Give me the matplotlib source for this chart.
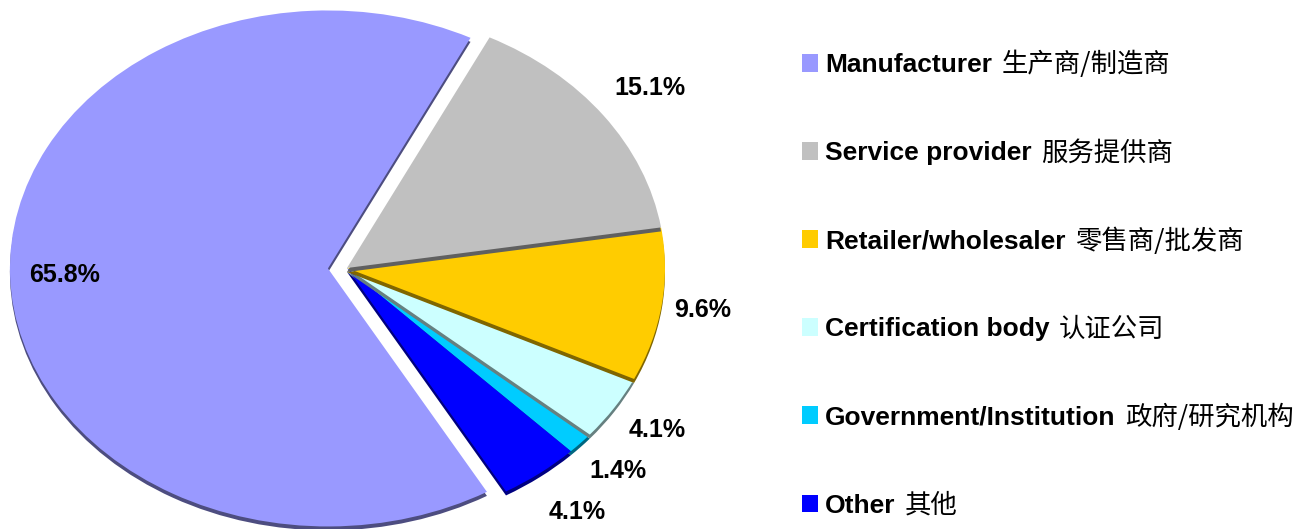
import matplotlib
matplotlib.use("Agg")
import numpy as np
import matplotlib.pyplot as plt
from matplotlib.colors import to_rgb

# DATA
categories_en = ["Manufacturer", "Service provider", "Retailer/wholesaler",
                 "Certification body", "Government/Institution", "Other"]
categories_cn = ["生产商/制造商", "服务提供商", "零售商/批发商",
                 "认证公司", "政府/研究机构", "其他"]
shares = [65.8, 15.1, 9.6, 4.1, 1.4, 4.1]

# STYLE
colors = ["#9999FF", "#C0C0C0", "#FFCC00", "#CCFFFF", "#00CCFF", "#0000FF"]
explode = [0.06, 0, 0, 0, 0, 0]
label_radius = [0.83, 1.18, 1.13, 1.16, 1.16, 1.19]
draw_rank = [6, 5, 4, 3, 1, 2]   # back-to-front order of the slices
depth = 4 / 258                   # 3D side thickness in data units

W, H = 1307, 529
cx, cy, rx, ry = 347, 268, 318, 258   # pie centre / radii in pixels

fig = plt.figure(figsize=(W / 100, H / 100), dpi=100)
ax = fig.add_axes([0, 0, 1, 1])

side_colors = [tuple(0.5 * c for c in to_rgb(col)) for col in colors]

sides, _ = ax.pie(shares, colors=side_colors, explode=explode, startangle=-60,
                  counterclock=False, center=(0, -depth),
                  wedgeprops=dict(linewidth=0))
tops, _ = ax.pie(shares, colors=colors, explode=explode, startangle=-60,
                 counterclock=False, center=(0, 0),
                 wedgeprops=dict(linewidth=0))

for s, t, rk in zip(sides, tops, draw_rank):
    s.set_zorder(2 * rk)
    t.set_zorder(2 * rk + 1)

# percentage labels
for t, val, rl in zip(tops, shares, label_radius):
    mid = np.deg2rad((t.theta1 + t.theta2) / 2)
    x0, y0 = t.center
    ax.text(x0 + rl * np.cos(mid), y0 + rl * np.sin(mid), f"{val:.1f}%",
            ha="center", va="center", fontsize=18, fontweight="bold",
            family="Liberation Sans", zorder=20)

ax.set_aspect("auto")
ax.set_xlim(-cx / rx, (W - cx) / rx)
ax.set_ylim((cy - H) / ry, cy / ry)
ax.axis("off")

# legend
leg = ax.legend(tops, categories_en, loc="upper left",
                bbox_to_anchor=(802 / W, 1 - 53 / H), bbox_transform=fig.transFigure,
                frameon=False, borderpad=0, borderaxespad=0,
                handlelength=0.6, handleheight=0.65, handletextpad=0.27,
                labelspacing=2.43,
                prop=dict(family="Liberation Sans", weight="bold", size=19))
leg.set_zorder(30)

for txt, cn in zip(leg.get_texts(), categories_cn):
    ax.annotate(cn, xy=(1, 0), xycoords=txt, xytext=(7, -1),
                textcoords="offset points", ha="left", va="bottom",
                fontsize=19, family=["Noto Sans CJK SC", "DejaVu Sans"],
                annotation_clip=False, zorder=31)

fig.savefig("out.png", dpi=100)
